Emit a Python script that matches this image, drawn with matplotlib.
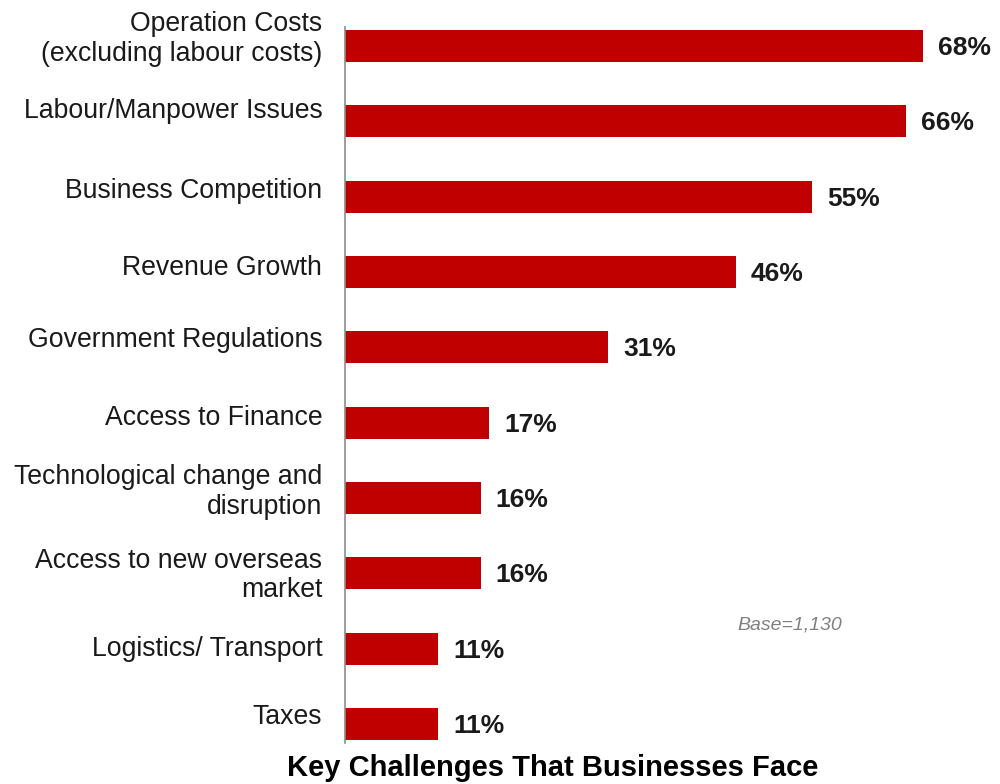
import matplotlib
matplotlib.use("Agg")
import matplotlib.pyplot as plt

categories = [
    "Operation Costs\n(excluding labour costs)",
    "Labour/Manpower Issues",
    "Business Competition",
    "Revenue Growth",
    "Government Regulations",
    "Access to Finance",
    "Technological change and\ndisruption",
    "Access to new overseas\nmarket",
    "Logistics/ Transport",
    "Taxes",
]
values = [68, 66, 55, 46, 31, 17, 16, 16, 11, 11]
value_labels = ["68%", "66%", "55%", "46%", "31%", "17%", "16%", "16%", "11%", "11%"]
title = "Key Challenges That Businesses Face"
base_note = "Base=1,130"

# layout: vertical nudge of each category label above its bar (pixels)
label_nudge_px = [7, 10, 6, 4, 7, 5, 6, -2, 0, 7]

plt.rcParams["font.family"] = ["Liberation Sans", "DejaVu Sans"]

fig = plt.figure(figsize=(10, 7.84), dpi=100)
ax = fig.add_axes([0.3445, 1 - 743 / 784, 1 - 0.3445, (743 - 27) / 784])

ys = list(range(len(values)))
ax.barh(ys, values, height=0.425, color="#C00000", edgecolor="none")
ax.set_xlim(0, 77.1)
ax.set_ylim(len(values) - 1 + 0.252, -0.252)

for s in ["top", "right", "bottom"]:
    ax.spines[s].set_visible(False)
ax.spines["left"].set_color("#8c8c8c")
ax.spines["left"].set_linewidth(1.2)
ax.set_xticks([])
ax.set_yticks([])

ytrans = ax.get_yaxis_transform()
for y, lab, dy in zip(ys, categories, label_nudge_px):
    ax.annotate(lab, xy=(0, y), xycoords=ytrans, xytext=(-16, dy * 0.72),
                textcoords="offset points", ha="right", va="center",
                fontsize=19.2, color="#1a1a1a", linespacing=1.18)

for y, v, t in zip(ys, values, value_labels):
    ax.annotate(t, xy=(v, y), xycoords="data", xytext=(11, -1.5),
                textcoords="offset points", ha="left", va="center",
                fontsize=19, fontweight="bold", color="#1a1a1a")

fig.text(0.737, 1 - 625 / 784, base_note, ha="left", va="center",
         fontsize=14, style="italic", color="#808080")
fig.text(0.553, 1 - 768 / 784, title, ha="center", va="center",
         fontsize=21, fontweight="bold", color="#000000")

fig.savefig("out.png", dpi=100)
